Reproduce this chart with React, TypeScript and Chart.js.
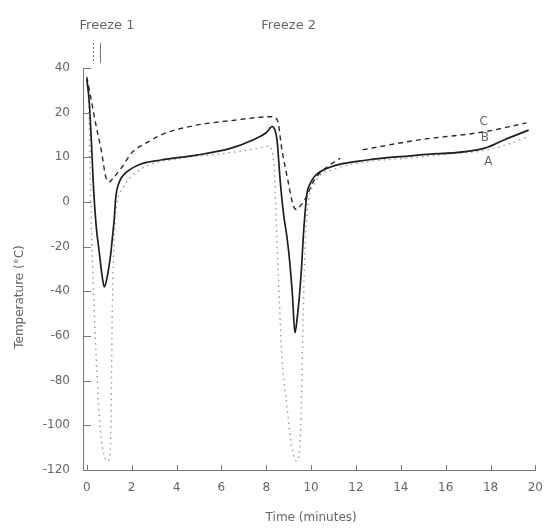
import React, { useEffect, useRef } from 'react';
import { Chart, registerables, LinearScale } from 'chart.js';

// ---- data ----
const X_TICKS = [0, 2, 4, 6, 8, 10, 12, 14, 16, 18, 20];
const Y_TICKS = [-120, -100, -80, -60, -40, -20, 0, 10, 20, 40];

// Curve A (solid)
const TIME_A = [0, 0.1, 0.2, 0.3, 0.42, 0.55, 0.68, 0.78, 0.9, 1.0, 1.07, 1.15, 1.22, 1.29, 1.45, 1.73, 2.3, 3.3, 4.9, 6.4, 7.4, 8.0, 8.26, 8.38, 8.48, 8.63, 8.78, 8.92, 9.05, 9.17, 9.28, 9.38, 9.48, 9.57, 9.65, 9.73, 9.82, 9.95, 10.15, 10.9, 12.5, 14.8, 17.7, 18.6, 19.7];
const TEMP_A = [35, 26, 14, 3, -11, -22, -33, -38, -34, -28, -23, -15, -8, 1, 4.5, 6.5, 8.3, 9.4, 10.5, 12, 13.9, 15.5, 16.9, 16.2, 13.9, 4.3, -6, -15.4, -27, -42, -58.6, -52, -42, -30, -16, -5, 2, 4, 5.7, 7.9, 9.4, 10.5, 12, 13.9, 16.1];

// Curve B (dotted)
const TIME_B = [0, 0.1, 0.2, 0.3, 0.42, 0.55, 0.7, 0.93, 1.0, 1.08, 1.1, 1.12, 1.16, 1.22, 1.32, 1.6, 2.3, 4.2, 6.0, 7.6, 8.1, 8.35, 8.45, 8.55, 8.7, 8.92, 9.13, 9.35, 9.5, 9.64, 9.7, 9.8, 10.2, 11.0, 12.5, 14.8, 16.2, 17.7, 18.7, 19.6];
const TEMP_B = [35, 20, -10, -40, -70, -95, -110, -116, -115, -100, -80, -60, -35, -15, -2, 3, 7, 9.8, 10.8, 12, 12.5, 8, -10, -35, -70, -91, -109, -116, -110, -55, -30, -8, 4.5, 7.3, 9, 10, 10.8, 11.5, 12.8, 14.5];

// Curve C (dashed)
const TIME_C = [0, 0.2, 0.42, 0.64, 0.86, 1.0, 1.2, 1.58, 2.0, 2.75, 3.5, 4.9, 6.4, 8.27, 8.5, 8.7, 8.99, 9.2, 9.35, 9.5, 9.72, 10.15, 10.73, 11.3, 11.8, 12.3, 14.8, 17.7, 19.6];
const TEMP_C = [36, 25.6, 16.9, 11.7, 5.3, 4.5, 5.5, 7.9, 11, 13.5, 15.4, 17.2, 18.2, 19.1, 18.3, 11.7, 4.2, -1.5, -3.5, -2, 0.5, 5, 7.9, 9.8, null, 11.7, 13.9, 15.7, 17.7];

const CURVE_NAMES = ['A', 'B', 'C'];
const CURVE_LABEL_TIME = [17.9, 17.75, 17.7];
const CURVE_LABEL_TEMP = [9.0, 14.3, 18.0];

const FREEZE_NAMES = ['Freeze 1', 'Freeze 2'];
const FREEZE_TIME = [0.9, 9.0];
const MARKER_TIME = [0.26, 0.61];

const X_TITLE = 'Time (minutes)';
const Y_TITLE = 'Temperature (°C)';

// ---- piecewise linear scale (unevenly labelled axis) ----
class PiecewiseScale extends LinearScale {
  static id = 'piecewise';
  getPixelForValue(value: any) {
    if (value === null || value === undefined || isNaN(value)) return NaN;
    const t = Y_TICKS;
    const n = t.length - 1;
    let idx: number;
    if (value <= t[0]) idx = (value - t[0]) / (t[1] - t[0]);
    else if (value >= t[n]) idx = n + (value - t[n]) / (t[n] - t[n - 1]);
    else {
      let i = 0;
      while (value > t[i + 1]) i++;
      idx = i + (value - t[i]) / (t[i + 1] - t[i]);
    }
    return this.getPixelForDecimal(idx / n);
  }
  getValueForPixel(pixel: number) {
    const n = Y_TICKS.length - 1;
    const idx = this.getDecimalForPixel(pixel) * n;
    const i = Math.max(0, Math.min(n - 1, Math.floor(idx)));
    return Y_TICKS[i] + (idx - i) * (Y_TICKS[i + 1] - Y_TICKS[i]);
  }
}

Chart.register(...registerables, PiecewiseScale as any);

const FONT = 'DejaVu Sans';
const TEXT = '#666';
const AXIS = '#777';

const toPoints = (xs: number[], ys: (number | null)[]) => xs.map((x, i) => ({ x, y: ys[i] }));

const annotations = {
  id: 'annotations',
  afterDraw(chart: any) {
    const { ctx, chartArea } = chart;
    const x = chart.scales.x;
    const y = chart.scales.y;
    ctx.save();
    ctx.strokeStyle = AXIS;
    ctx.lineWidth = 1;
    ctx.setLineDash([]);
    ctx.beginPath();
    Y_TICKS.forEach((v) => {
      const py = Math.round(y.getPixelForValue(v)) + 0.5;
      ctx.moveTo(chartArea.left, py);
      ctx.lineTo(chartArea.left + 8, py);
    });
    X_TICKS.forEach((v) => {
      const px = Math.round(x.getPixelForValue(v)) + 0.5;
      ctx.moveTo(px, chartArea.bottom);
      ctx.lineTo(px, chartArea.bottom - 5);
    });
    ctx.stroke();

    // freeze markers
    MARKER_TIME.forEach((t, i) => {
      const px = Math.round(x.getPixelForValue(t)) + 0.5;
      ctx.beginPath();
      ctx.setLineDash(i === 0 ? [2, 2] : []);
      ctx.moveTo(px, chartArea.top - 25);
      ctx.lineTo(px, chartArea.top - 5);
      ctx.stroke();
    });
    ctx.setLineDash([]);

    ctx.fillStyle = TEXT;
    ctx.textAlign = 'center';
    ctx.textBaseline = 'middle';
    ctx.font = `13px "${FONT}"`;
    FREEZE_NAMES.forEach((name, i) => {
      ctx.fillText(name, x.getPixelForValue(FREEZE_TIME[i]), chartArea.top - 42);
    });

    ctx.font = `12px "${FONT}"`;
    CURVE_NAMES.forEach((name, i) => {
      ctx.fillText(name, x.getPixelForValue(CURVE_LABEL_TIME[i]), y.getPixelForValue(CURVE_LABEL_TEMP[i]));
    });

    // axis titles
    ctx.fillText(X_TITLE, (chartArea.left + chartArea.right) / 2 + 2, chartArea.bottom + 48);
    ctx.save();
    ctx.translate(20, (chartArea.top + chartArea.bottom) / 2 + 28);
    ctx.rotate(-Math.PI / 2);
    ctx.fillText(Y_TITLE, 0, 0);
    ctx.restore();
    ctx.restore();
  },
};

export default function App() {
  const ref = useRef<HTMLCanvasElement>(null);
  useEffect(() => {
    if (!ref.current) return;
    const chart = new Chart(ref.current, {
      type: 'line',
      data: {
        datasets: [
          {
            label: 'A',
            data: toPoints(TIME_A, TEMP_A),
            borderColor: '#1e1e1e',
            borderWidth: 1.7,
            pointRadius: 0,
            cubicInterpolationMode: 'monotone',
          },
          {
            label: 'B',
            data: toPoints(TIME_B, TEMP_B),
            borderColor: '#999',
            borderWidth: 1.4,
            borderDash: [1.5, 4],
            pointRadius: 0,
            cubicInterpolationMode: 'monotone',
          },
          {
            label: 'C',
            data: toPoints(TIME_C, TEMP_C),
            borderColor: '#2a2a2a',
            borderWidth: 1.4,
            borderDash: [5, 4],
            pointRadius: 0,
            spanGaps: false,
            cubicInterpolationMode: 'monotone',
          },
        ] as any,
      },
      options: {
        animation: false,
        responsive: false,
        devicePixelRatio: 1,
        layout: { padding: { top: 68, right: 8, bottom: 0, left: 0 } },
        plugins: { legend: { display: false }, tooltip: { enabled: false } },
        scales: {
          x: {
            type: 'linear',
            min: -0.17,
            max: 20,
            afterBuildTicks: (s: any) => {
              s.ticks = X_TICKS.map((v) => ({ value: v }));
            },
            afterFit: (s: any) => {
              s.height = 59;
            },
            grid: { display: false, drawTicks: false },
            border: { display: true, color: AXIS, width: 1 },
            ticks: {
              font: { family: FONT, size: 12 },
              color: TEXT,
              padding: 11,
              maxRotation: 0,
              autoSkip: false,
            },
          },
          y: {
            type: 'piecewise' as any,
            min: -120,
            max: 40,
            afterBuildTicks: (s: any) => {
              s.ticks = Y_TICKS.map((v) => ({ value: v }));
            },
            afterFit: (s: any) => {
              s.width = 83;
            },
            grid: { display: false, drawTicks: false },
            border: { display: true, color: AXIS, width: 1 },
            ticks: {
              font: { family: FONT, size: 12 },
              color: TEXT,
              padding: 13,
              autoSkip: false,
              callback: (v: any) => String(v),
            },
          },
        } as any,
      },
      plugins: [annotations],
    });
    return () => chart.destroy();
  }, []);
  return (
    <div style={{ position: 'absolute', left: 0, top: 0, width: 554, height: 529, background: '#fff' }}>
      <canvas ref={ref} width={554} height={529} />
    </div>
  );
}
